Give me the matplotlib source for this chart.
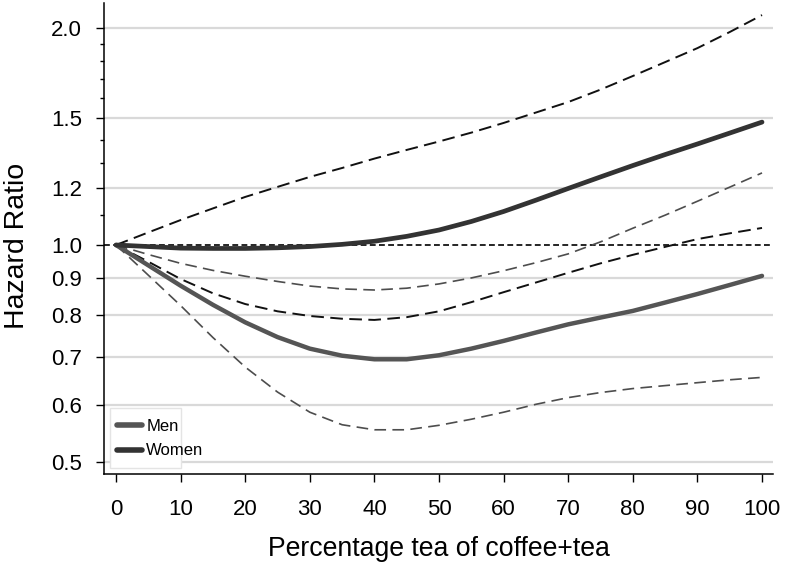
import matplotlib
matplotlib.use("Agg")
import matplotlib.pyplot as plt
from matplotlib.patches import Rectangle
from matplotlib.ticker import FixedLocator, NullFormatter, FixedFormatter

plt.rcParams['font.family'] = ['Liberation Sans', 'DejaVu Sans']

pct = [0, 5, 10, 15, 20, 25, 30, 35, 40, 45, 50, 55, 60, 65, 70, 75, 80, 85, 90, 95, 100]

men_hr = [1.0, 0.937, 0.878, 0.826, 0.781, 0.745, 0.718, 0.702, 0.694, 0.694, 0.703,
          0.718, 0.736, 0.756, 0.776, 0.793, 0.810, 0.832, 0.855, 0.880, 0.906]
men_hi = [1.0, 0.970, 0.943, 0.922, 0.905, 0.890, 0.877, 0.869, 0.866, 0.871, 0.883,
          0.900, 0.921, 0.945, 0.972, 1.010, 1.055, 1.100, 1.150, 1.203, 1.259]
men_lo = [1.0, 0.908, 0.824, 0.744, 0.677, 0.625, 0.586, 0.563, 0.554, 0.554, 0.562,
          0.573, 0.586, 0.601, 0.614, 0.624, 0.632, 0.638, 0.644, 0.650, 0.655]

women_hr = [1.0, 0.995, 0.990, 0.989, 0.989, 0.991, 0.995, 1.002, 1.012, 1.028, 1.049,
            1.078, 1.113, 1.154, 1.198, 1.243, 1.289, 1.335, 1.381, 1.430, 1.481]
women_hi = [1.0, 1.041, 1.083, 1.124, 1.166, 1.204, 1.243, 1.279, 1.318, 1.355, 1.392,
            1.432, 1.477, 1.527, 1.579, 1.643, 1.716, 1.794, 1.876, 1.975, 2.085]
women_lo = [1.0, 0.948, 0.897, 0.857, 0.828, 0.809, 0.797, 0.790, 0.787, 0.794, 0.809,
            0.833, 0.860, 0.887, 0.915, 0.943, 0.969, 0.994, 1.019, 1.038, 1.056]

yticks = [0.5, 0.6, 0.7, 0.8, 0.9, 1.0, 1.2, 1.5, 2.0]
ytick_labels = ['0.5', '0.6', '0.7', '0.8', '0.9', '1.0', '1.2', '1.5', '2.0']
yminor = [1.1, 1.3, 1.4, 1.6, 1.7, 1.8, 1.9]
xticks = [0, 10, 20, 30, 40, 50, 60, 70, 80, 90, 100]

fig = plt.figure(figsize=(7.86, 5.67), dpi=100)
ax = fig.add_axes([104 / 786, 1 - 474 / 567, 669 / 786, 471 / 567])
ax.set_yscale('log')
ax.set_xlim(-1.86, 101.7)
ax.set_ylim(0.481, 2.167)

for y in yticks:
    if y != 1.0:
        ax.axhline(y, color='#d9d9d9', lw=1.6, zorder=0)
ax.axhline(1.0, color='black', lw=1.2, ls=(0, (3.5, 2)), zorder=1)

ax.plot(pct, women_hi, color='#111111', lw=1.4, ls=(0, (6.5, 3.3)), zorder=2)
ax.plot(pct, women_lo, color='#111111', lw=1.4, ls=(0, (6.5, 3.3)), zorder=2)
ax.plot(pct, men_hi, color='#4d4d4d', lw=1.2, ls=(0, (7, 3.8)), zorder=2)
ax.plot(pct, men_lo, color='#4d4d4d', lw=1.2, ls=(0, (7, 3.8)), zorder=2)
ax.plot(pct, men_hr, color='#555555', lw=3.2, solid_capstyle='round',
        solid_joinstyle='round', label='Men', zorder=3)
ax.plot(pct, women_hr, color='#333333', lw=3.4, solid_capstyle='round',
        solid_joinstyle='round', label='Women', zorder=3)

ax.yaxis.set_major_locator(FixedLocator(yticks))
ax.yaxis.set_major_formatter(FixedFormatter(ytick_labels))
ax.yaxis.set_minor_locator(FixedLocator(yminor))
ax.yaxis.set_minor_formatter(NullFormatter())
ax.set_xticks(xticks)

ax.tick_params(axis='both', which='major', labelsize=16, length=5.8, width=1,
               color='black')
ax.tick_params(axis='x', which='major', pad=12)
ax.tick_params(axis='y', which='major', pad=10)
ax.tick_params(axis='y', which='minor', length=3, width=1)

ax.spines['top'].set_visible(False)
ax.spines['right'].set_visible(False)
ax.spines['left'].set_linewidth(1.1)
ax.spines['bottom'].set_linewidth(1.1)

ax.set_xlabel('Percentage tea of coffee+tea', fontsize=19.2, labelpad=12)
ax.set_ylabel('Hazard Ratio', fontsize=20.5)
ax.yaxis.set_label_coords(-0.111, (474 - 246) / 471)

# legend box (Stata style, narrower than the labels)
box = Rectangle((6 / 669, 6 / 471), 71 / 669, 60 / 471, transform=ax.transAxes,
                facecolor='white', edgecolor='#e4e4e4', lw=1.0, zorder=4)
ax.add_patch(box)
leg = ax.legend(loc='upper left', bbox_to_anchor=(13 / 669, 55 / 471), fontsize=12,
                frameon=False, handlelength=1.5, handletextpad=0.25,
                borderpad=0, borderaxespad=0, labelspacing=0.56)
leg.set_zorder(5)
for h in leg.get_lines():
    h.set_linewidth(4.0)
    h.set_solid_capstyle('round')

fig.savefig('out.png', dpi=100)
